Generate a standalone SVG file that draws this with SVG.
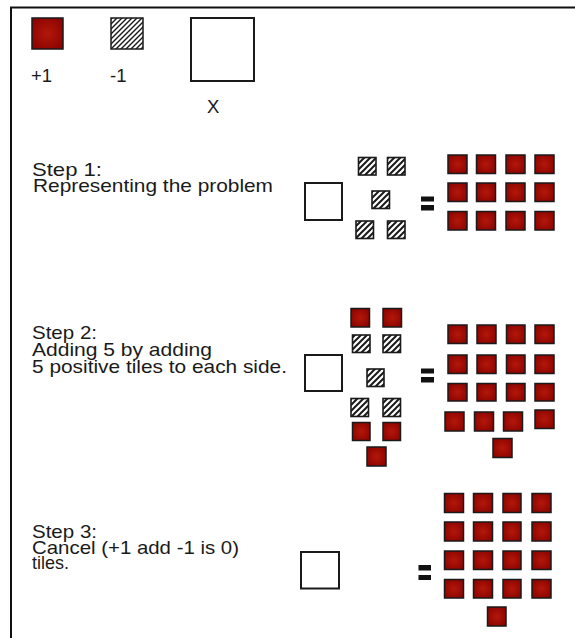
<svg xmlns="http://www.w3.org/2000/svg" width="575" height="638" viewBox="0 0 575 638">
<style>
.t{font-family:"Liberation Sans",Arial,sans-serif;font-size:18.5px;fill:#1a1a1a}
.p{fill:url(#red);stroke:#1a1a1a;stroke-width:1.5}
.n{fill:url(#hatch-s);stroke:#1a1a1a;stroke-width:1.6}
.nl{fill:url(#hatch);stroke:#1a1a1a;stroke-width:1.5}
.x{fill:#fff;stroke:#1a1a1a;stroke-width:2}
.eq{fill:#111}
.frame{fill:none;stroke:#111;stroke-width:2}
</style>
<defs>
<radialGradient id="red" cx="0.5" cy="0.5" r="0.6">
<stop offset="0" stop-color="#b3170a"/>
<stop offset="1" stop-color="#8c0400"/>
</radialGradient>
<pattern id="hatch" patternUnits="userSpaceOnUse" width="5" height="5">
<rect width="5" height="5" fill="#fff"/>
<path d="M0,5 L5,0 M-1,1 L1,-1 M4,6 L6,4" stroke="#1a1a1a" stroke-width="1.4"/>
</pattern>
<pattern id="hatch-s" patternUnits="userSpaceOnUse" width="6" height="6">
<rect width="6" height="6" fill="#fff"/>
<path d="M0,6 L6,0 M-1,1 L1,-1 M5,7 L7,5" stroke="#1a1a1a" stroke-width="2"/>
</pattern>
</defs>

<path class="frame" d="M11,638 L11,7.5 L575,7.5"/>

<g id="legend-plus">
<rect class="p" x="32" y="18" width="31" height="31"/>
<text class="t" x="31" y="82">+1</text>
</g>
<g id="legend-minus">
<rect class="nl" x="111" y="18" width="32" height="31"/>
<text class="t" x="110" y="82">-1</text>
</g>
<g id="legend-x">
<rect class="x" x="191" y="18" width="63" height="63"/>
<text class="t" x="207" y="113">X</text>
</g>

<g id="step1-label">
<text class="t" x="32" y="175.5" textLength="70" lengthAdjust="spacingAndGlyphs">Step 1:</text>
<text class="t" x="33" y="191.5" textLength="240" lengthAdjust="spacingAndGlyphs">Representing the problem</text>
</g>
<g id="step1-left">
<rect class="x" x="305" y="183" width="37" height="37"/>
<rect class="n" x="358.5" y="157.5" width="17.5" height="17.5"/>
<rect class="n" x="387.5" y="157.5" width="17.5" height="17.5"/>
<rect class="n" x="372" y="191" width="17.5" height="17.5"/>
<rect class="n" x="356" y="221" width="17.5" height="17.5"/>
<rect class="n" x="387.5" y="221" width="17.5" height="17.5"/>
</g>
<g id="step1-eq">
<rect class="eq" x="421" y="196.5" width="13" height="5"/>
<rect class="eq" x="421" y="205" width="13" height="5.5"/>
</g>
<g id="step1-right">
<rect class="p" x="448" y="155" width="19" height="18.5"/>
<rect class="p" x="476.5" y="155" width="19" height="18.5"/>
<rect class="p" x="506" y="155" width="19" height="18.5"/>
<rect class="p" x="535" y="155" width="19" height="18.5"/>
<rect class="p" x="448" y="183" width="19" height="18.5"/>
<rect class="p" x="476.5" y="183" width="19" height="18.5"/>
<rect class="p" x="506" y="183" width="19" height="18.5"/>
<rect class="p" x="535" y="183" width="19" height="18.5"/>
<rect class="p" x="448" y="211.5" width="19" height="18.5"/>
<rect class="p" x="476.5" y="211.5" width="19" height="18.5"/>
<rect class="p" x="506" y="211.5" width="19" height="18.5"/>
<rect class="p" x="535" y="211.5" width="19" height="18.5"/>
</g>

<g id="step2-label">
<text class="t" x="32" y="339" textLength="65" lengthAdjust="spacingAndGlyphs">Step 2:</text>
<text class="t" x="32" y="356" textLength="180" lengthAdjust="spacingAndGlyphs">Adding 5 by adding</text>
<text class="t" x="32" y="372.5" textLength="255" lengthAdjust="spacingAndGlyphs">5 positive tiles to each side.</text>
</g>
<g id="step2-left">
<rect class="x" x="305" y="355" width="37" height="36"/>
<rect class="p" x="351" y="308.5" width="18.5" height="18.5"/>
<rect class="p" x="383" y="308.5" width="18.5" height="18.5"/>
<rect class="n" x="352.5" y="335" width="17.5" height="17.5"/>
<rect class="n" x="383" y="335" width="17.5" height="17.5"/>
<rect class="n" x="367" y="369" width="17" height="17.5"/>
<rect class="n" x="351" y="398.5" width="17.5" height="18"/>
<rect class="n" x="383" y="398.5" width="17.5" height="18"/>
<rect class="p" x="352.5" y="422.5" width="17.5" height="18"/>
<rect class="p" x="383" y="422.5" width="17.5" height="18"/>
<rect class="p" x="367" y="447" width="19" height="19"/>
</g>
<g id="step2-eq">
<rect class="eq" x="421" y="368.5" width="13" height="5"/>
<rect class="eq" x="421" y="377" width="13" height="5.5"/>
</g>
<g id="step2-right">
<rect class="p" x="448" y="325" width="19" height="18.5"/>
<rect class="p" x="477" y="325" width="19" height="18.5"/>
<rect class="p" x="506.5" y="325" width="18.5" height="18.5"/>
<rect class="p" x="535" y="325" width="19" height="18.5"/>
<rect class="p" x="448" y="355" width="19" height="18.5"/>
<rect class="p" x="477" y="355" width="19" height="18.5"/>
<rect class="p" x="506.5" y="355" width="18.5" height="18.5"/>
<rect class="p" x="535" y="355" width="19" height="18.5"/>
<rect class="p" x="448" y="383.5" width="19" height="17.5"/>
<rect class="p" x="477" y="383.5" width="19" height="17.5"/>
<rect class="p" x="506.5" y="383.5" width="18.5" height="17.5"/>
<rect class="p" x="535" y="383.5" width="19" height="17.5"/>
<rect class="p" x="445" y="412" width="19" height="19"/>
<rect class="p" x="474.5" y="412" width="19" height="19"/>
<rect class="p" x="503.5" y="412" width="19" height="19"/>
<rect class="p" x="535" y="410" width="19" height="18.5"/>
<rect class="p" x="493" y="438.5" width="19" height="19"/>
</g>

<g id="step3-label">
<text class="t" x="32" y="537.5" textLength="65" lengthAdjust="spacingAndGlyphs">Step 3:</text>
<text class="t" x="32" y="553.5" textLength="207" lengthAdjust="spacingAndGlyphs">Cancel (+1 add -1 is 0)</text>
<text class="t" x="32" y="568.5" textLength="37" lengthAdjust="spacingAndGlyphs">tiles.</text>
</g>
<g id="step3-left">
<rect class="x" x="301" y="552" width="38" height="36.5"/>
</g>
<g id="step3-eq">
<rect class="eq" x="418.5" y="565" width="12.5" height="5.5"/>
<rect class="eq" x="418.5" y="575" width="12.5" height="5"/>
</g>
<g id="step3-right">
<rect class="p" x="444.5" y="493.5" width="19" height="19"/>
<rect class="p" x="473.5" y="493.5" width="19" height="19"/>
<rect class="p" x="503" y="493.5" width="18" height="19"/>
<rect class="p" x="532" y="493.5" width="19" height="19"/>
<rect class="p" x="444.5" y="522" width="19" height="19"/>
<rect class="p" x="473.5" y="522" width="19" height="19"/>
<rect class="p" x="503" y="522" width="18" height="19"/>
<rect class="p" x="532" y="522" width="19" height="19"/>
<rect class="p" x="444.5" y="551" width="19" height="18.5"/>
<rect class="p" x="473.5" y="551" width="19" height="18.5"/>
<rect class="p" x="503" y="551" width="18" height="18.5"/>
<rect class="p" x="532" y="551" width="19" height="18.5"/>
<rect class="p" x="444.5" y="579.5" width="19" height="18.5"/>
<rect class="p" x="473.5" y="579.5" width="19" height="18.5"/>
<rect class="p" x="503" y="579.5" width="18" height="18.5"/>
<rect class="p" x="532" y="579.5" width="19" height="18.5"/>
<rect class="p" x="487.5" y="607" width="18.5" height="19"/>
</g>
</svg>
